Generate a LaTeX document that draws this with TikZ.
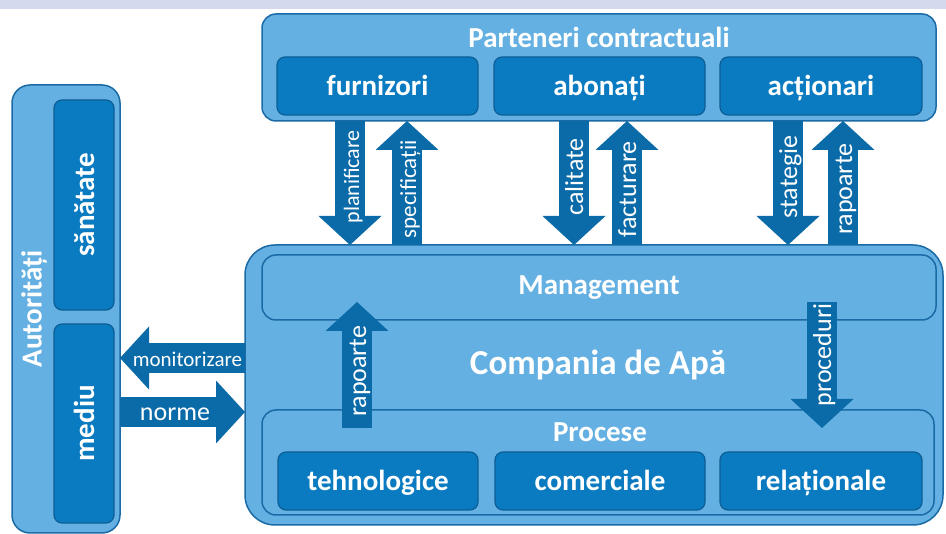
\documentclass[tikz,border=0pt]{standalone}
\usepackage{fontspec}
\setmainfont{Carlito}
\usetikzlibrary{arrows.meta}
\definecolor{boxlight}{HTML}{65B0E2}
\definecolor{boxline}{HTML}{1A6AA5}
\definecolor{boxdark}{HTML}{0B7BC1}
\definecolor{boxdarkline}{HTML}{0B5E96}
\definecolor{arrowblue}{HTML}{0A6BA8}
\definecolor{topband}{HTML}{D5D9EE}
\newcommand{\boxfont}{\fontsize{29}{34}\selectfont\bfseries}
\newcommand{\labelfont}{\fontsize{26}{30}\selectfont}
\tikzstyle{group}=[draw=boxline, fill=boxlight, line width=1.5pt, rounded corners=14pt, inner sep=0, outer sep=0]
\tikzstyle{unit}=[draw=boxdarkline, fill=boxdark, line width=1.2pt, rounded corners=8pt, inner sep=0, outer sep=0,
                  text=white, font=\boxfont, text height=20pt, text depth=0pt]
\tikzstyle{title}=[text=white, inner sep=0, font=\boxfont]
\tikzstyle{blockarrow}=[draw=arrowblue, line width=30pt,
                        -{Triangle[width=63pt, length=29pt, line width=0pt]}]
\tikzstyle{arrowlabel}=[text=white, inner sep=0, font=\labelfont, text height=18pt, text depth=0pt]

\begin{document}
\begin{tikzpicture}[x=1pt, y=-1pt]
        \useasboundingbox (0, 0) rectangle (946, 534);
        \fill[topband] (0, 0) rectangle (946, 9);
        % Partners
        \node[group, minimum width=674, minimum height=107] (partners) at (599, 67.5) {};
        \node[title] (partnerstitle) at (599, 37) {Parteneri contractuali};
        \node[unit, minimum width=201, minimum height=58] (furnizori) at (377.5, 86) {furnizori};
        \node[unit, minimum width=211, minimum height=58] (abonati) at (599.5, 86) {abonați};
        \node[unit, minimum width=202, minimum height=58] (actionari) at (821, 86) {acționari};
        % Authorities
        \node[group, rounded corners=18pt, minimum width=108, minimum height=448] (autoritati) at (66, 309) {};
        \node[title, rotate=90] (autoritatititle) at (34, 309) {Autorități};
        \node[unit, rotate=90, minimum width=210, minimum height=60] (sanatate) at (84, 205) {sănătate};
        \node[unit, rotate=90, minimum width=199, minimum height=60] (mediu) at (84, 423.5) {mediu};
        % Company
        \node[group, rounded corners=30pt, minimum width=698, minimum height=280] (company) at (594, 385) {};
        \node[group, minimum width=674, minimum height=65] (management) at (599, 287.5) {};
        \node[title] (managementtitle) at (599, 288) {Management};
        \node[title, font=\fontsize{35}{40}\selectfont\bfseries] (companytitle) at (598, 365) {Compania de Apă};
        \node[group, minimum width=672, minimum height=105] (procese) at (598, 462.5) {};
        \node[title] (procesetitle) at (600, 432) {Procese};
        \node[unit, minimum width=200, minimum height=58] (tehnologice) at (378, 481) {tehnologice};
        \node[unit, minimum width=210, minimum height=58] (comerciale) at (600, 481) {comerciale};
        \node[unit, minimum width=202, minimum height=58] (relationale) at (821, 481) {relaționale};

        \coordinate (planx) at (350, 0);
        \coordinate (specx) at (407, 0);
        \coordinate (calx) at (574, 0);
        \coordinate (factx) at (627, 0);
        \coordinate (stratx) at (788, 0);
        \coordinate (rapx) at (843, 0);
        \draw[blockarrow] (partners.south -| planx) -- node[arrowlabel, pos=0.45, rotate=90, font=\fontsize{22}{26}\selectfont] {planificare} (company.north -| planx);
        \draw[blockarrow] (company.north -| specx) -- node[arrowlabel, pos=0.45, rotate=90, font=\fontsize{23}{26}\selectfont] {specificații} (partners.south -| specx);
        \draw[blockarrow] (partners.south -| calx) -- node[arrowlabel, pos=0.45, rotate=90] {calitate} (company.north -| calx);
        \draw[blockarrow] (company.north -| factx) -- node[arrowlabel, pos=0.45, rotate=90] {facturare} (partners.south -| factx);
        \draw[blockarrow] (partners.south -| stratx) -- node[arrowlabel, pos=0.45, rotate=90] {stategie} (company.north -| stratx);
        \draw[blockarrow] (company.north -| rapx) -- node[arrowlabel, pos=0.45, rotate=90] {rapoarte} (partners.south -| rapx);

        \coordinate (monity) at (0, 358);
        \coordinate (normey) at (0, 412);
        \draw[blockarrow] (company.west |- monity) -- node[arrowlabel, pos=0.46, font=\fontsize{21}{24}\selectfont] {monitorizare} (autoritati.east |- monity);
        \draw[blockarrow] (autoritati.east |- normey) -- node[arrowlabel, pos=0.44] {norme} (company.west |- normey);

        % Inside the company
        \coordinate (rapbottom) at (357, 428);
        \coordinate (raptop) at (357, 302);
        \coordinate (proctop) at (822, 302);
        \coordinate (procbottom) at (822, 428);
        \draw[blockarrow] (rapbottom) -- node[arrowlabel, pos=0.45, rotate=90] {rapoarte} (raptop);
        \draw[blockarrow] (proctop) -- node[arrowlabel, pos=0.42, rotate=90] {proceduri} (procbottom);
    \end{tikzpicture}
\end{document}
